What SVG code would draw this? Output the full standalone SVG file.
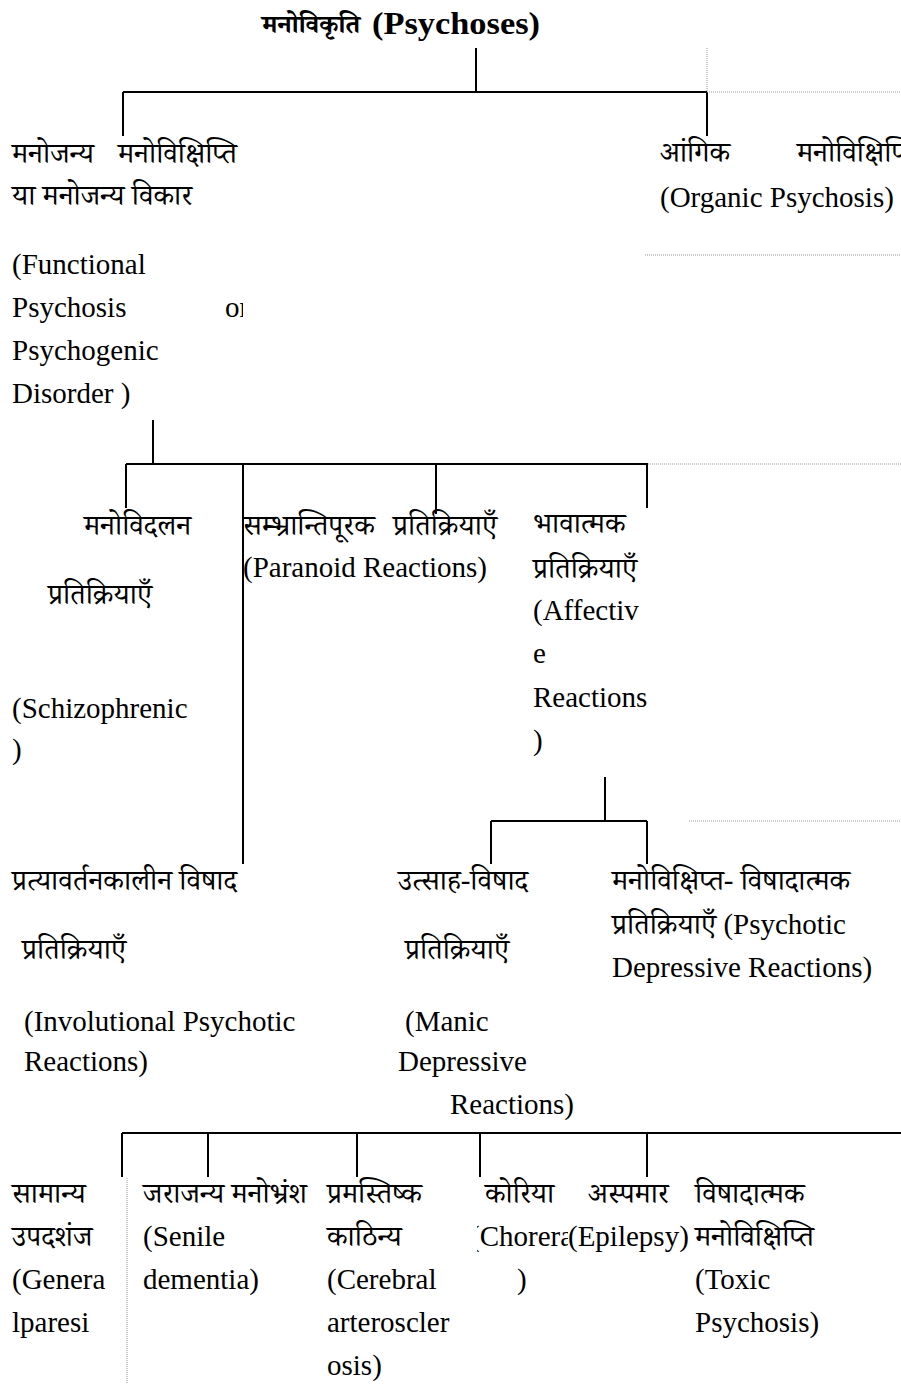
<svg xmlns="http://www.w3.org/2000/svg" width="901" height="1384" viewBox="0 0 901 1384">
<style>
text{font-family:"Liberation Serif","Noto Serif Devanagari","Noto Sans Devanagari",serif;font-size:29px;fill:#000}
.t{font-weight:bold}
.s{stroke:#000;stroke-width:2;fill:none}
.d{stroke:#999;stroke-width:1;stroke-dasharray:1 1;fill:none}
</style>
<defs>
<clipPath id="cOr"><rect x="0" y="280" width="243" height="50"/></clipPath>
<clipPath id="cCh"><rect x="477" y="1215" width="91" height="45"/></clipPath>
</defs>
<rect width="901" height="1384" fill="#fff"/>
<g id="connectors">
<path class="s" d="M476 48V92M123 92H707M123 92V136M707 92V136"/>
<path class="d" d="M707 48V92M707 92H901M645 255H901M648 464H901M689 821H901M127 1178V1384"/>
<path class="s" d="M153 420V464M126 464H648M126 464V508M243 464V864M436 464V514M647 464V508"/>
<path class="s" d="M605 777V821M491 821H647M491 821V864M647 821V864"/>
<path class="s" d="M122 1133H901M122 1133V1177M208 1133V1177M357 1133V1177M480 1133V1177M647 1133V1177"/>
</g>
<g id="root"><text class="t" x="262" y="33" style="font-size:26px">मनोविकृति</text><text class="t" x="372" y="34" style="font-size:32px" textLength="168" lengthAdjust="spacingAndGlyphs">(Psychoses)</text></g>
<g id="functional">
<text x="12" y="163">मनोजन्य</text><text x="118" y="163">मनोविक्षिप्ति</text>
<text x="12" y="205">या मनोजन्य विकार</text>
<text x="12" y="274">(Functional</text>
<text x="12" y="317">Psychosis</text>
<text x="225" y="317" clip-path="url(#cOr)">or</text>
<text x="12" y="360">Psychogenic</text>
<text x="12" y="403">Disorder )</text>
</g>
<g id="organic">
<text x="660" y="162">आंगिक</text><text x="797" y="162">मनोविक्षिप्ति</text>
<text x="660" y="207">(Organic Psychosis)</text>
</g>
<g id="schizophrenic">
<text x="84" y="535">मनोविदलन</text>
<text x="48" y="604">प्रतिक्रियाएँ</text>
<text x="12" y="718">(Schizophrenic</text>
<text x="12" y="759">)</text>
</g>
<g id="paranoid">
<text x="243" y="535">सम्भ्रान्तिपूरक</text><text x="393" y="535">प्रतिक्रियाएँ</text>
<text x="243" y="577">(Paranoid Reactions)</text>
</g>
<g id="affective">
<text x="533" y="533">भावात्मक</text>
<text x="533" y="578">प्रतिक्रियाएँ</text>
<text x="533" y="620">(Affectiv</text>
<text x="533" y="663">e</text>
<text x="533" y="707">Reactions</text>
<text x="533" y="750">)</text>
</g>
<g id="involutional">
<text x="12" y="890">प्रत्यावर्तनकालीन विषाद</text>
<text x="22" y="959">प्रतिक्रियाएँ</text>
<text x="24" y="1031">(Involutional Psychotic</text>
<text x="24" y="1071">Reactions)</text>
</g>
<g id="manic">
<text x="398" y="890">उत्साह-विषाद</text>
<text x="405" y="959">प्रतिक्रियाएँ</text>
<text x="405" y="1031">(Manic</text>
<text x="398" y="1071">Depressive</text>
<text x="450" y="1114">Reactions)</text>
</g>
<g id="psychotic-depressive">
<text x="612" y="890">मनोविक्षिप्त- विषादात्मक</text>
<text x="612" y="934">प्रतिक्रियाएँ (Psychotic</text>
<text x="612" y="977">Depressive Reactions)</text>
</g>
<g id="paresis">
<text x="12" y="1203">सामान्य</text>
<text x="12" y="1246">उपदशंज</text>
<text x="12" y="1289">(Genera</text>
<text x="12" y="1332">lparesi</text>
</g>
<g id="senile">
<text x="143" y="1203">जराजन्य मनोभ्रंश</text>
<text x="143" y="1246">(Senile</text>
<text x="143" y="1289">dementia)</text>
</g>
<g id="cerebral">
<text x="327" y="1203">प्रमस्तिष्क</text>
<text x="327" y="1246">काठिन्य</text>
<text x="327" y="1289">(Cerebral</text>
<text x="327" y="1332">arteroscler</text>
<text x="327" y="1375">osis)</text>
</g>
<g id="chorea">
<text x="485" y="1203">कोरिया</text>
<text x="470" y="1246" clip-path="url(#cCh)">(Chorera</text>
<text x="517" y="1289">)</text>
</g>
<g id="epilepsy">
<text x="588" y="1203">अस्पमार</text>
<text x="568" y="1246">(Epilepsy)</text>
</g>
<g id="toxic">
<text x="695" y="1203">विषादात्मक</text>
<text x="695" y="1246">मनोविक्षिप्ति</text>
<text x="695" y="1289">(Toxic</text>
<text x="695" y="1332">Psychosis)</text>
</g>
</svg>
